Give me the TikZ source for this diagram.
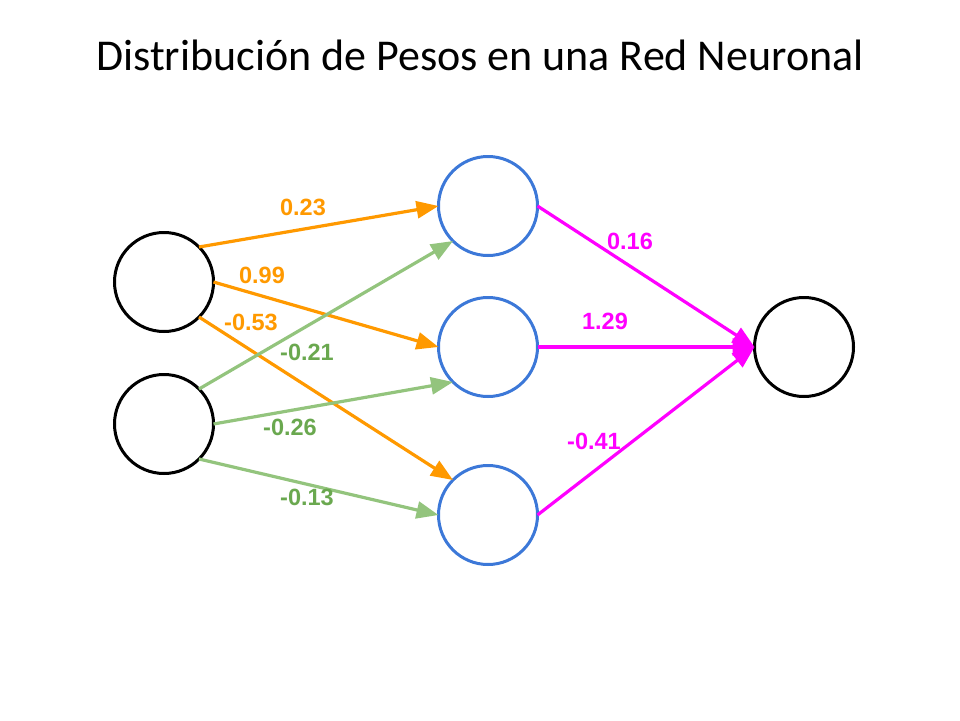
\documentclass[tikz,border=0pt]{standalone}
\usepackage{fontspec}
\setmainfont{Carlito}
\newfontfamily\labelfont{Liberation Sans}
\usetikzlibrary{arrows.meta}
\definecolor{orng}{HTML}{FF9900}
\definecolor{grnline}{HTML}{93C47D}
\definecolor{grntext}{HTML}{6AA84F}
\definecolor{blu}{HTML}{3C78D8}
\definecolor{mag}{HTML}{FF00FF}
\tikzset{
  neuron/.style={circle, draw=#1, line width=3pt, minimum size=99pt, inner sep=0pt, outer sep=0pt},
  wedge/.style={draw=#1, line width=3.2pt, -{Triangle[length=22pt,width=17pt]}, fill=none},
  wlabel/.style={text=#1, font=\labelfont\bfseries\fontsize{23.5}{26}\selectfont, inner sep=0pt},
}
\begin{document}
\begin{tikzpicture}[x=1pt,y=-1pt]
\useasboundingbox (0,0) rectangle (960,720);
\node[font=\fontsize{44}{50}\selectfont, anchor=base] (title) at (480,70) {Distribución de Pesos en una Red Neuronal};
% neurons
\node[neuron=black] (i1) at (164,282) {};
\node[neuron=black] (i2) at (164,424) {};
\node[neuron=blu] (h1) at (488,206) {};
\node[neuron=blu] (h2) at (488,347) {};
\node[neuron=blu] (h3) at (488,515) {};
\node[neuron=black] (o) at (804,347) {};
% edges input -> hidden
\draw[wedge=orng] (i1.north east) -- (h1.west);
\draw[wedge=orng] (i1.east) -- (h2.west);
\draw[wedge=orng] (i1.south east) -- (h3.north west);
\draw[wedge=grnline] (i2.north east) -- (h1.south west);
\draw[wedge=grnline] (i2.east) -- (h2.south west);
\draw[wedge=grnline] (i2.south east) -- (h3.west);
% hidden -> output
\draw[wedge=mag] (h1.east) -- (o.west);
\draw[wedge=mag] (h2.east) -- (o.west);
\draw[wedge=mag] (h3.east) -- (o.west);
% labels
\node[wlabel=orng] (l1) at (303,207) {0.23};
\node[wlabel=orng] (l2) at (262,275) {0.99};
\node[wlabel=orng] (l3) at (251,322) {-0.53};
\node[wlabel=grntext] (l4) at (307,352) {-0.21};
\node[wlabel=grntext] (l5) at (290,427) {-0.26};
\node[wlabel=grntext] (l6) at (307,497) {-0.13};
\node[wlabel=mag] (l7) at (630,241) {0.16};
\node[wlabel=mag] (l8) at (605,321) {1.29};
\node[wlabel=mag] (l9) at (594,441) {-0.41};
\end{tikzpicture}
\end{document}
